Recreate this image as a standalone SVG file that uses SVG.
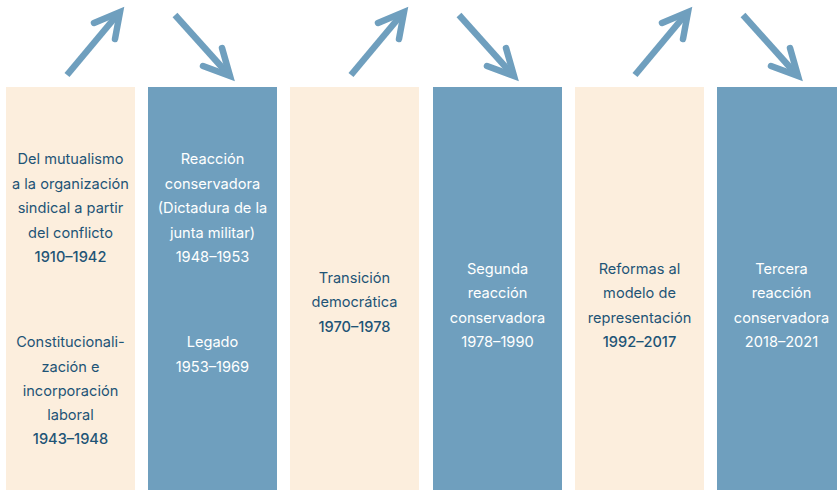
<svg xmlns="http://www.w3.org/2000/svg" width="837" height="490" viewBox="0 0 837 490">
<style>
.light{fill:#FCEEDD}
.dark{fill:#6F9FBE}
text{font-family:Inter,"DejaVu Sans",sans-serif;font-size:14.6px;text-anchor:middle}
.t1{fill:#1E5476}
.t2{fill:#FFFFFF}
.y1{font-weight:500}
.arrow{fill:none;stroke:#6F9FBE;stroke-width:6.5;stroke-linecap:round;stroke-linejoin:miter}
</style>
<rect width="837" height="490" fill="#FFFFFF"/>
<g id="connectors">
<g id="arrows-1">
<path class="arrow" d="M67,75 L118,14" style="stroke-linecap:butt"/>
<path class="arrow" d="M94,23 L120,12 L115,39"/>
<path class="arrow" d="M175,15 L228,74" style="stroke-linecap:butt"/>
<path class="arrow" d="M203,66 L230,76 L222,48"/>
</g>
<g id="arrows-2" transform="translate(284,0)">
<path class="arrow" d="M67,75 L118,14" style="stroke-linecap:butt"/>
<path class="arrow" d="M94,23 L120,12 L115,39"/>
<path class="arrow" d="M175,15 L228,74" style="stroke-linecap:butt"/>
<path class="arrow" d="M203,66 L230,76 L222,48"/>
</g>
<g id="arrows-3" transform="translate(568,0)">
<path class="arrow" d="M67,75 L118,14" style="stroke-linecap:butt"/>
<path class="arrow" d="M94,23 L120,12 L115,39"/>
<path class="arrow" d="M175,15 L228,74" style="stroke-linecap:butt"/>
<path class="arrow" d="M203,66 L230,76 L222,48"/>
</g>
</g>
<g id="col1">
<rect class="light" x="6" y="87" width="129" height="403"/>
<text class="t1" x="70.5" y="164">Del mutualismo</text>
<text class="t1" x="70.5" y="189">a la organización</text>
<text class="t1" x="70.5" y="213">sindical a partir</text>
<text class="t1" x="70.5" y="238">del conflicto</text>
<text class="t1 y1" x="70.5" y="262">1910–1942</text>
<text class="t1" x="70.5" y="347">Constitucionali-</text>
<text class="t1" x="70.5" y="372">zación e</text>
<text class="t1" x="70.5" y="396">incorporación</text>
<text class="t1" x="70.5" y="420">laboral</text>
<text class="t1 y1" x="70.5" y="444">1943–1948</text>
</g>
<g id="col2">
<rect class="dark" x="148" y="87" width="129" height="403"/>
<text class="t2" x="212.5" y="164">Reacción</text>
<text class="t2" x="212.5" y="189">conservadora</text>
<text class="t2" x="212.5" y="213">(Dictadura de la</text>
<text class="t2" x="212.5" y="238">junta militar)</text>
<text class="t2" x="212.5" y="262">1948–1953</text>
<text class="t2" x="212.5" y="347">Legado</text>
<text class="t2" x="212.5" y="372">1953–1969</text>
</g>
<g id="col3">
<rect class="light" x="290" y="87" width="129" height="403"/>
<text class="t1" x="354.5" y="283">Transición</text>
<text class="t1" x="354.5" y="307">democrática</text>
<text class="t1 y1" x="354.5" y="332">1970–1978</text>
</g>
<g id="col4">
<rect class="dark" x="433" y="87" width="129" height="403"/>
<text class="t2" x="497.5" y="274">Segunda</text>
<text class="t2" x="497.5" y="298">reacción</text>
<text class="t2" x="497.5" y="323">conservadora</text>
<text class="t2" x="497.5" y="347">1978–1990</text>
</g>
<g id="col5">
<rect class="light" x="575" y="87" width="129" height="403"/>
<text class="t1" x="639.5" y="274">Reformas al</text>
<text class="t1" x="639.5" y="298">modelo de</text>
<text class="t1" x="639.5" y="323">representación</text>
<text class="t1 y1" x="639.5" y="347">1992–2017</text>
</g>
<g id="col6">
<rect class="dark" x="717" y="87" width="129" height="403"/>
<text class="t2" x="781.5" y="274">Tercera</text>
<text class="t2" x="781.5" y="298">reacción</text>
<text class="t2" x="781.5" y="323">conservadora</text>
<text class="t2" x="781.5" y="347">2018–2021</text>
</g>
</svg>
